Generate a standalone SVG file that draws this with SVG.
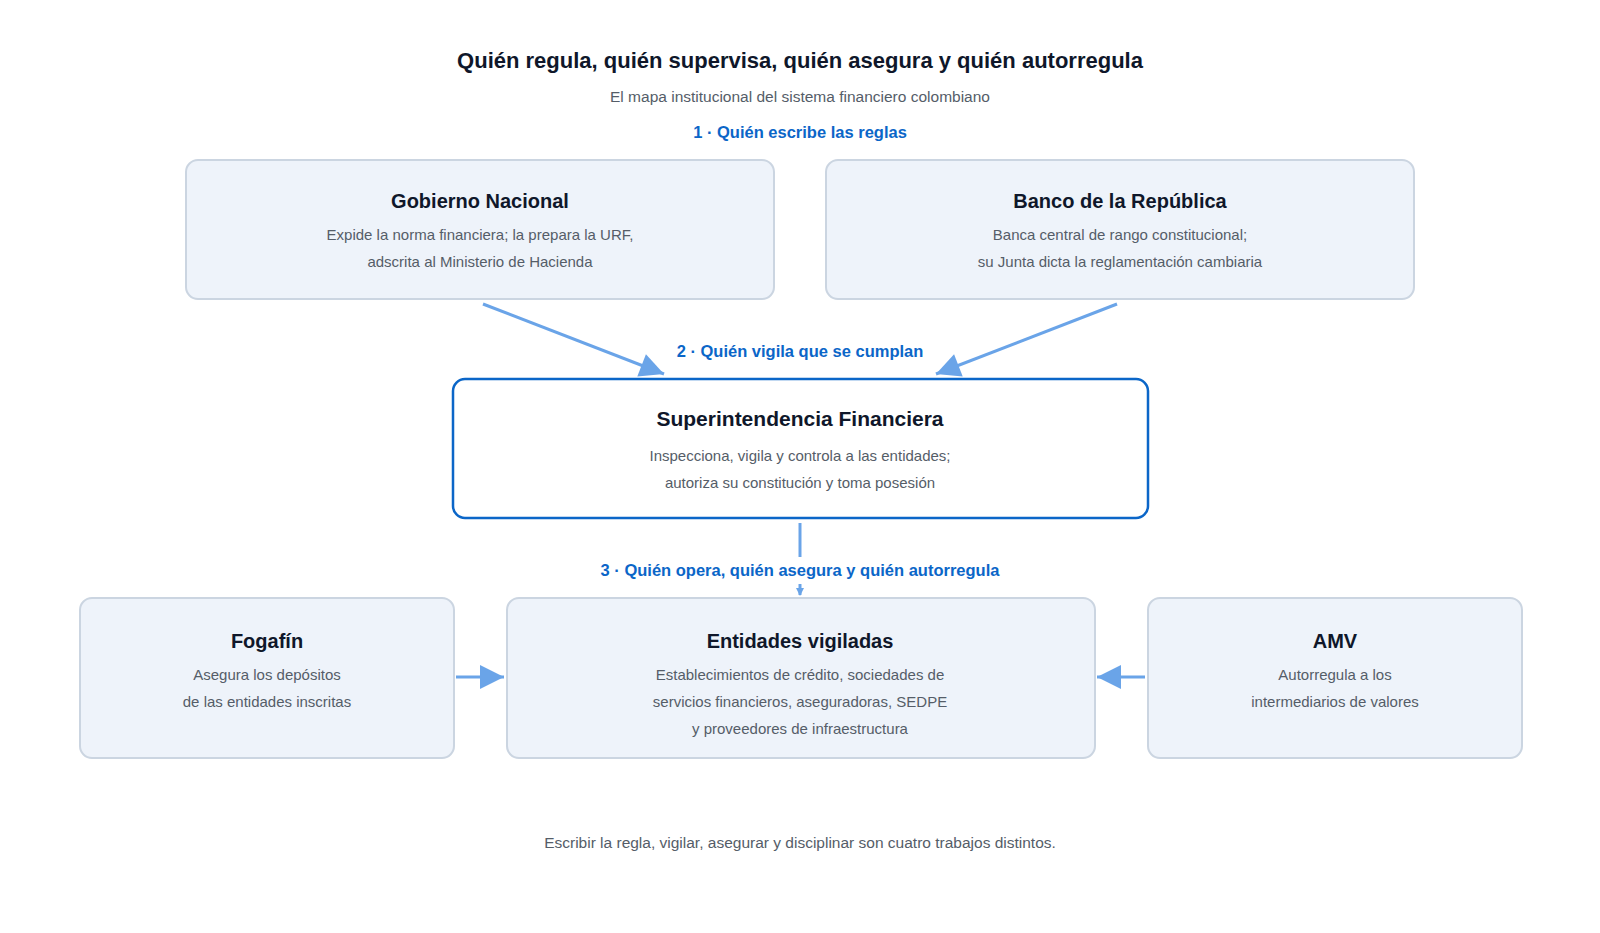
<svg xmlns="http://www.w3.org/2000/svg" width="1600" height="933" viewBox="0 0 1600 933">
<style>
text{font-family:"Liberation Sans",Arial,sans-serif;text-anchor:middle}
.box{fill:#eef3fa;stroke:#cbd5e1;stroke-width:2}
.t{font-size:20px;font-weight:bold;fill:#0f172a}
.d{font-size:15px;fill:#555d68}
.sec{font-size:16.5px;font-weight:bold;fill:#0b66c8}
.c{stroke:#6aa4e8;stroke-width:3;fill:none}
</style>
<defs>
<marker id="ah" markerWidth="8" markerHeight="8" refX="7" refY="4" orient="auto" markerUnits="userSpaceOnUse" viewBox="0 0 8 8"><path d="M0,0L8,4L0,8z" fill="#6aa4e8"/></marker>
<marker id="big" viewBox="0 0 10 10" refX="10" refY="5" markerWidth="26" markerHeight="24" markerUnits="userSpaceOnUse" orient="auto"><path d="M0,0L10,5L0,10z" fill="#6aa4e8"/></marker>
</defs>
<rect width="1600" height="933" fill="#fff"/>
<text x="800" y="68" style="font-size:22px;font-weight:bold;fill:#0f172a">Quién regula, quién supervisa, quién asegura y quién autorregula</text>
<text x="800" y="102" class="d" style="font-size:15.5px">El mapa institucional del sistema financiero colombiano</text>
<text x="800" y="138" class="sec">1 · Quién escribe las reglas</text>
<text x="800" y="357" class="sec">2 · Quién vigila que se cumplan</text>
<text x="800" y="576" class="sec">3 · Quién opera, quién asegura y quién autorregula</text>
<g id="connectors">
<line x1="483" y1="304" x2="664" y2="374" class="c" marker-end="url(#big)"/>
<line x1="1117" y1="304" x2="936" y2="374" class="c" marker-end="url(#big)"/>
<line x1="800" y1="523" x2="800" y2="557" class="c"/>
<line x1="800" y1="584" x2="800" y2="595" class="c" stroke-width="2" marker-end="url(#ah)"/>
<line x1="456" y1="677" x2="504" y2="677" class="c" marker-end="url(#big)"/>
<line x1="1145" y1="677" x2="1097" y2="677" class="c" marker-end="url(#big)"/>
</g>
<g id="gobierno"><rect x="186" y="160" width="588" height="139" rx="12" class="box"/>
<text x="480" y="208" class="t">Gobierno Nacional</text>
<text x="480" y="240" class="d">Expide la norma financiera; la prepara la URF,</text>
<text x="480" y="267" class="d">adscrita al Ministerio de Hacienda</text></g>
<g id="banrep"><rect x="826" y="160" width="588" height="139" rx="12" class="box"/>
<text x="1120" y="208" class="t">Banco de la República</text>
<text x="1120" y="240" class="d">Banca central de rango constitucional;</text>
<text x="1120" y="267" class="d">su Junta dicta la reglamentación cambiaria</text></g>
<g id="superfin"><rect x="453" y="379" width="695" height="139" rx="12" fill="#fff" stroke="#0b66c8" stroke-width="2.5"/>
<text x="800" y="426" class="t" style="font-size:21px">Superintendencia Financiera</text>
<text x="800" y="461" class="d">Inspecciona, vigila y controla a las entidades;</text>
<text x="800" y="488" class="d">autoriza su constitución y toma posesión</text></g>
<g id="fogafin"><rect x="80" y="598" width="374" height="160" rx="12" class="box"/>
<text x="267" y="648" class="t">Fogafín</text>
<text x="267" y="680" class="d">Asegura los depósitos</text>
<text x="267" y="707" class="d">de las entidades inscritas</text></g>
<g id="entidades"><rect x="507" y="598" width="588" height="160" rx="12" class="box"/>
<text x="800" y="648" class="t">Entidades vigiladas</text>
<text x="800" y="680" class="d">Establecimientos de crédito, sociedades de</text>
<text x="800" y="707" class="d">servicios financieros, aseguradoras, SEDPE</text>
<text x="800" y="734" class="d">y proveedores de infraestructura</text></g>
<g id="amv"><rect x="1148" y="598" width="374" height="160" rx="12" class="box"/>
<text x="1335" y="648" class="t">AMV</text>
<text x="1335" y="680" class="d">Autorregula a los</text>
<text x="1335" y="707" class="d">intermediarios de valores</text></g>
<text x="800" y="848" class="d" style="font-size:15.5px">Escribir la regla, vigilar, asegurar y disciplinar son cuatro trabajos distintos.</text>
</svg>
